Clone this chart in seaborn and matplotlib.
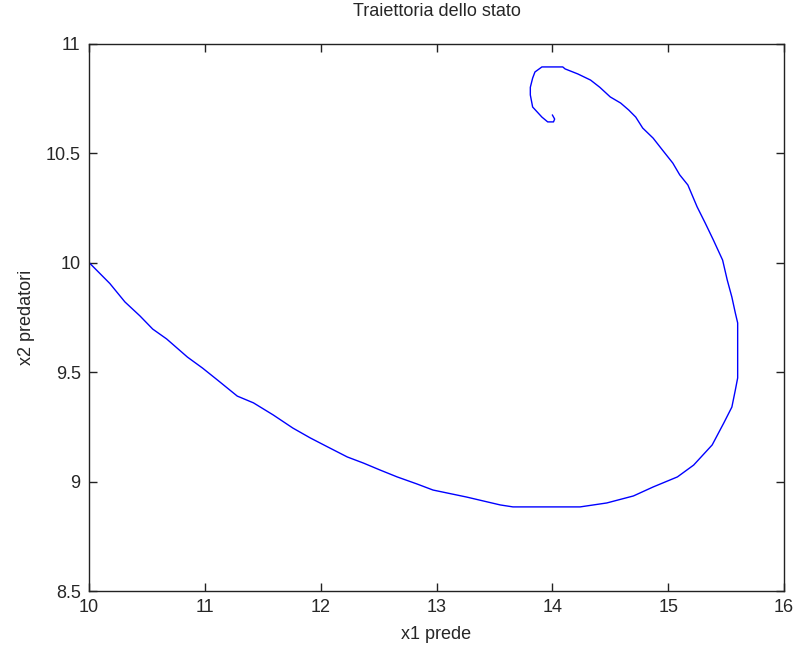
import matplotlib
matplotlib.use("Agg")
import matplotlib.pyplot as plt
import seaborn as sns
import pandas as pd

x1_prede = [10.0, 10.18, 10.31, 10.44, 10.55, 10.67, 10.85, 10.98, 11.11, 11.28, 11.42, 11.59,
            11.76, 11.91, 12.06, 12.23, 12.37, 12.51, 12.66, 12.83, 12.97, 13.26, 13.55, 13.66,
            14.24, 14.47, 14.70, 14.87, 15.08, 15.22, 15.38, 15.48, 15.55, 15.58, 15.60, 15.60,
            15.58, 15.55, 15.51, 15.47, 15.39, 15.32, 15.25, 15.17, 15.10, 15.04, 14.95, 14.87,
            14.78, 14.72, 14.66, 14.59, 14.50, 14.41, 14.33, 14.22, 14.11, 14.09, 13.91, 13.85,
            13.83, 13.81, 13.81, 13.83, 13.87, 13.91, 13.96, 14.01, 14.02, 14.00]
x2_predatori = [10.0, 9.904, 9.82, 9.756, 9.696, 9.651, 9.568, 9.518, 9.463, 9.39, 9.359, 9.304,
                9.244, 9.199, 9.158, 9.112, 9.084, 9.053, 9.021, 8.989, 8.961, 8.929, 8.893, 8.884,
                8.884, 8.902, 8.934, 8.975, 9.021, 9.075, 9.167, 9.267, 9.34, 9.418, 9.473, 9.724,
                9.769, 9.842, 9.92, 10.011, 10.103, 10.18, 10.254, 10.354, 10.40, 10.454, 10.514, 10.568,
                10.614, 10.664, 10.696, 10.728, 10.756, 10.80, 10.833, 10.861, 10.884, 10.893, 10.893, 10.87,
                10.842, 10.80, 10.765, 10.71, 10.687, 10.664, 10.642, 10.642, 10.655, 10.674]
x_ticks = [10, 11, 12, 13, 14, 15, 16]
y_ticks = [8.5, 9, 9.5, 10, 10.5, 11]
y_tick_labels = ["8.5", "9", "9.5", "10", "10.5", "11"]

df = pd.DataFrame({"x1": x1_prede, "x2": x2_predatori, "step": range(len(x1_prede))})

sns.set_style("ticks")
plt.rcParams["font.family"] = ["Liberation Sans", "DejaVu Sans"]
plt.rcParams["xtick.direction"] = "in"
plt.rcParams["ytick.direction"] = "in"
plt.rcParams["xtick.top"] = True
plt.rcParams["ytick.right"] = True

fig = plt.figure(figsize=(7.98, 6.54), dpi=100)
ax = fig.add_axes([89 / 798, 1 - 591 / 654, (784 - 89) / 798, (591 - 43.5) / 654])

sns.lineplot(data=df, x="x1", y="x2", sort=False, estimator=None, color="#0000ff",
             linewidth=1.0, ax=ax)

ax.set_xlim(10, 16)
ax.set_ylim(8.5, 11)
ax.set_xticks(x_ticks)
ax.set_xticklabels([str(t) for t in x_ticks])
ax.set_yticks(y_ticks)
ax.set_yticklabels(y_tick_labels)
for s in ax.spines.values():
    s.set_visible(True)
    s.set_linewidth(1.0)
    s.set_color("#222222")
ax.tick_params(axis="both", which="both", length=6, width=1.0, labelsize=13, color="#222222",
               pad=6, top=True, right=True)
ax.set_title("Traiettoria dello stato", fontsize=13, pad=20)
ax.set_xlabel("x1 prede", fontsize=13, labelpad=7)
ax.set_ylabel("x2 predatori", fontsize=13, labelpad=8)

fig.savefig("out.png", dpi=100)
